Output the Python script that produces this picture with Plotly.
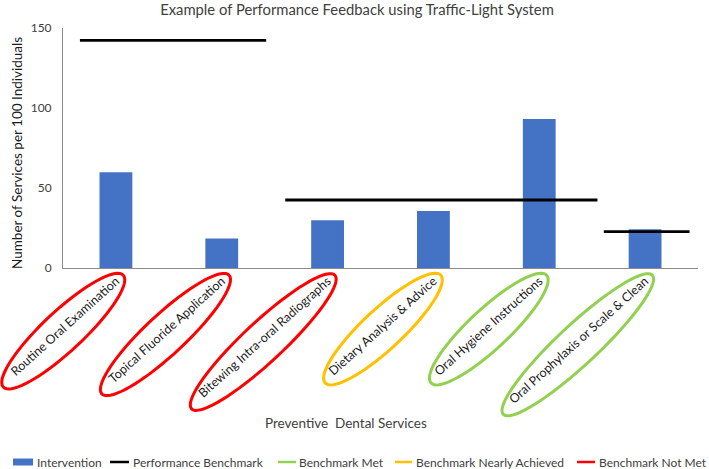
import math
import plotly.graph_objects as go

# ---------------- data ----------------
categories = [
    "Routine Oral Examination",
    "Topical Fluoride Application",
    "Bitewing Intra-oral Radiographs",
    "Dietary Analysis & Advice",
    "Oral Hygiene Instructions",
    "Oral Prophylaxis or Scale & Clean",
]
intervention = [59.8, 18.4, 29.9, 35.7, 93.2, 24.2]

# performance benchmark segments (value, start / end on category axis)
benchmark_values = [142.3, 42.5, 22.7]
benchmark_start = [-0.34, 1.60, 4.61]
benchmark_end = [1.42, 4.55, 5.42]

# traffic-light status per service
status = ["Not Met", "Not Met", "Not Met", "Nearly Achieved", "Met", "Met"]

y_ticks = [0, 50, 100, 150]

title = "Example of Performance Feedback using Traffic-Light System"
y_title = "Number of Services per 100 Individuals"
x_title = "Preventive  Dental Services"

legend_names = ["Intervention", "Performance Benchmark", "Benchmark Met",
                "Benchmark Nearly Achieved", "Benchmark Not Met"]

# ---------------- style / layout ----------------
W, H = 709, 469
L, R, T, B = 63, 11, 28, 201
PW, PH = W - L - R, H - T - B
FONT = "Lato"
BAR_COLOR = "#4472C4"
STATUS_COLORS = {"Met": "#92D050", "Nearly Achieved": "#FFC000", "Not Met": "#FF0000"}
LEGEND_COLORS = [BAR_COLOR, "#000000", "#92D050", "#FFC000", "#FF0000"]
oval_half_len = [82, 87, 98, 79, 79, 102]   # px, semi-major axis of each oval
OVAL_B = 20
OVAL_ANGLE = math.radians(43)


def px2x(x):
    return (x - L) / PW


def py2y(y):
    return (T + PH - y) / PH


fig = go.Figure()
n = len(categories)
xs = list(range(n))

fig.add_trace(go.Bar(
    x=xs, y=intervention, width=0.31, marker_color=BAR_COLOR,
    marker_line_width=0, name="Intervention", hovertext=categories,
    showlegend=False,
))

for v, s, e in zip(benchmark_values, benchmark_start, benchmark_end):
    fig.add_trace(go.Scatter(
        x=[s, e], y=[v, v], mode="lines",
        line=dict(color="#000000", width=2.8),
        showlegend=False, hoverinfo="skip",
    ))

shapes = []
# traffic-light ovals around each category label
ca, sa = math.cos(OVAL_ANGLE), math.sin(OVAL_ANGLE)
for i, (st, a) in enumerate(zip(status, oval_half_len)):
    d = a - 10
    cx, cy = -d * ca, -(14 + d * sa)
    pts = []
    for k in range(73):
        t = 2 * math.pi * k / 72
        u, v = a * math.cos(t), OVAL_B * math.sin(t)
        px = cx + u * ca - v * sa
        py = cy + u * sa + v * ca
        pts.append(f"{px:.2f},{py:.2f}")
    path = "M" + " L".join(pts) + " Z"
    shapes.append(dict(
        type="path", path=path, xref="paper", yref="paper",
        xsizemode="pixel", ysizemode="pixel",
        xanchor=(i + 0.5) / n, yanchor=0,
        line=dict(color=STATUS_COLORS[st], width=3),
    ))

# manual legend
legend_text_x = [35, 131, 297, 414, 597]
legend_sym = [(13, 33), (110, 129), (278, 296), (395, 412), (577, 595)]
LEG_Y = 462
annotations = []
for i, (name, col) in enumerate(zip(legend_names, LEGEND_COLORS)):
    x0, x1 = legend_sym[i]
    if i == 0:
        shapes.append(dict(type="rect", xref="paper", yref="paper",
                           x0=px2x(x0), x1=px2x(x1), y0=py2y(LEG_Y + 3.5), y1=py2y(LEG_Y - 3.5),
                           fillcolor=col, line=dict(width=0)))
    else:
        shapes.append(dict(type="line", xref="paper", yref="paper",
                           x0=px2x(x0), x1=px2x(x1), y0=py2y(LEG_Y), y1=py2y(LEG_Y),
                           line=dict(color=col, width=2.5)))
    annotations.append(dict(
        text=name, x=px2x(legend_text_x[i]), y=py2y(LEG_Y), xref="paper", yref="paper",
        xanchor="left", yanchor="middle", showarrow=False,
        font=dict(family=FONT, size=12, color="#404040"),
    ))

annotations.append(dict(
    text=y_title, x=px2x(17), y=py2y(153), xref="paper", yref="paper",
    textangle=-90, showarrow=False, xanchor="center", yanchor="middle",
    font=dict(family=FONT, size=13.5, color="#1a1a1a"),
))
annotations.append(dict(
    text=x_title, x=px2x(346), y=py2y(423), xref="paper", yref="paper",
    showarrow=False, xanchor="center", yanchor="middle",
    font=dict(family=FONT, size=13.5, color="#404040"),
))

fig.update_layout(
    width=W, height=H,
    margin=dict(l=L, r=R, t=T, b=B, autoexpand=False),
    paper_bgcolor="white", plot_bgcolor="white",
    title=dict(text=title, x=357 / W, xref="container", xanchor="center",
               y=1 - 10 / H, yref="container", yanchor="middle",
               font=dict(family=FONT, size=14.8, color="#404040")),
    showlegend=False,
    shapes=shapes, annotations=annotations,
    xaxis=dict(range=[-0.5, n - 0.5], tickvals=xs, ticktext=categories,
               tickangle=-42, showgrid=False, zeroline=False,
               showline=True, linecolor="#8c8c8c", linewidth=1, ticks="",
               tickfont=dict(family=FONT, size=12.5, color="#1a1a1a")),
    yaxis=dict(range=[0, 150], tickvals=y_ticks, showgrid=False, zeroline=False,
               showline=True, linecolor="#8c8c8c", linewidth=1, ticks="",
               ticklabelstandoff=8,
               tickfont=dict(family=FONT, size=12, color="#404040")),
)

fig.write_html("out.html", config={"displayModeBar": False},
               post_script="document.body.style.margin='0';")
